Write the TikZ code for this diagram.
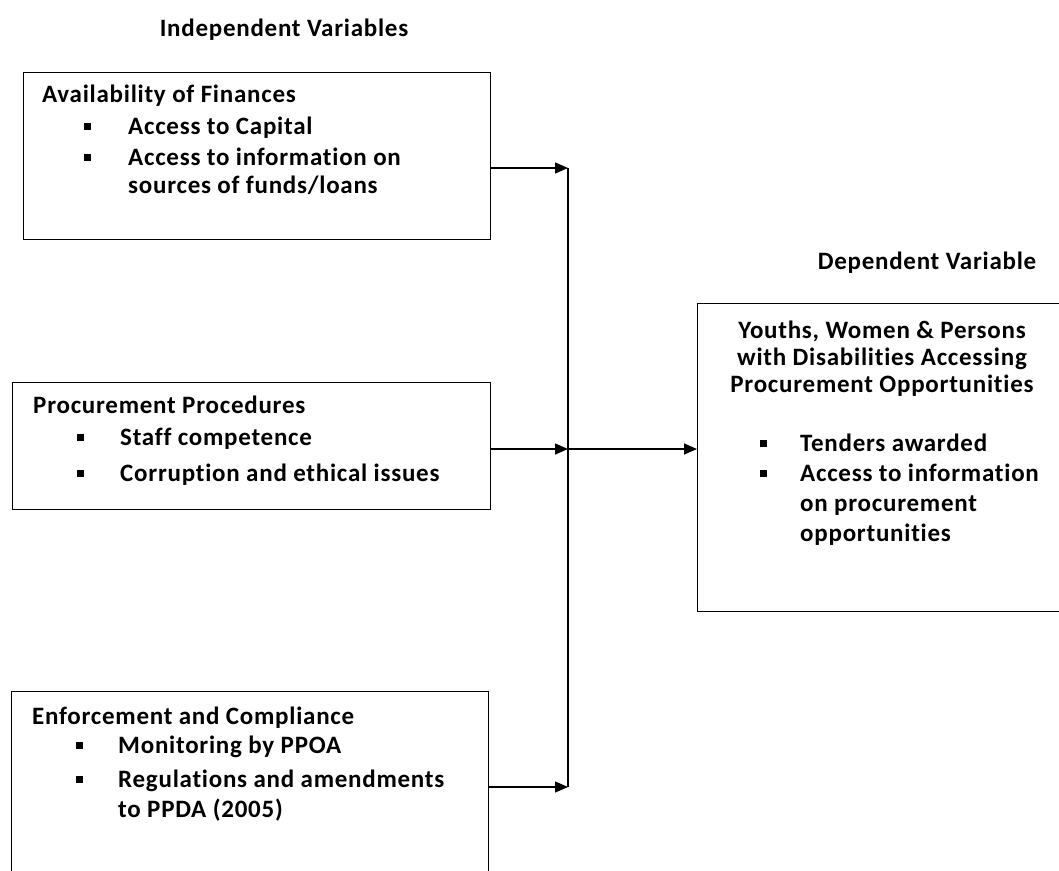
\documentclass[tikz,border=0pt]{standalone}
\usepackage{fontspec}
\setmainfont{Carlito}[LetterSpace=3, Ligatures={NoCommon}]
\usetikzlibrary{arrows.meta}

% Small square bullet used in every list.
\newcommand{\sqbullet}{\rule[4pt]{7pt}{7pt}}

\begin{document}
\begin{tikzpicture}[
        x = 1pt, y = -1pt,
        > = {Triangle[length=13pt, width=11pt]},
        box/.style = {draw, line width=1.3pt, inner sep=0pt, anchor=north west},
        label/.style = {inner sep=0pt, anchor=base west, font=\fontsize{25}{29}\selectfont\bfseries},
        heading/.style = {label, anchor=base},
        link/.style = {line width=1.3pt}
    ]

        % Fix the page to the size of the reference.
        \useasboundingbox (0, 0) rectangle (1059, 870);
        \clip (0, 0) rectangle (1059, 870);

        % Column headings.
        \node[heading] (indep) at (284, 36) {Independent Variables};
        \node[heading] (depend) at (927, 269) {Dependent Variable};

        % The three boxes on the left and the one on the right.
        \node[box, minimum width=467pt, minimum height=167pt] (fin) at (23, 72) {};
        \node[box, minimum width=478pt, minimum height=127pt] (proc) at (12, 382) {};
        \node[box, minimum width=477pt, minimum height=200pt] (enf) at (11, 691) {};
        \node[box, minimum width=380pt, minimum height=308pt] (dep) at (697, 303) {};

        % Text of the finance box.
        \node[label] (fintitle) at (42, 102) {Availability of Finances};
        \node[label] (fina) at (84, 134) {\makebox[44pt][l]{\sqbullet}Access to Capital};
        \node[label] (finb) at (84, 165) {\makebox[44pt][l]{\sqbullet}Access to information on};
        \node[label] (finc) at (128, 193) {sources of funds/loans};

        % Text of the procedures box.
        \node[label] (proctitle) at (33, 413) {Procurement Procedures};
        \node[label] (proca) at (77, 445) {\makebox[43pt][l]{\sqbullet}Staff competence};
        \node[label] (procb) at (77, 481) {\makebox[43pt][l]{\sqbullet}Corruption and ethical issues};

        % Text of the enforcement box.
        \node[label] (enftitle) at (32, 724) {Enforcement and Compliance};
        \node[label] (enfa) at (76, 753) {\makebox[42pt][l]{\sqbullet}Monitoring by PPOA};
        \node[label] (enfb) at (76, 787) {\makebox[42pt][l]{\sqbullet}Regulations and amendments};
        \node[label] (enfc) at (118, 817) {to PPDA (2005)};

        % Text of the dependent variable box.
        \node[heading] (deptitlea) at (882, 338) {Youths, Women \& Persons};
        \node[heading] (deptitleb) at (882, 365) {with Disabilities Accessing};
        \node[heading] (deptitlec) at (882, 392) {Procurement Opportunities};
        \node[label] (depa) at (760, 451) {\makebox[40pt][l]{\sqbullet}Tenders awarded};
        \node[label] (depb) at (760, 481) {\makebox[40pt][l]{\sqbullet}Access to information};
        \node[label] (depc) at (800, 511) {on procurement};
        \node[label] (depd) at (800, 541) {opportunities};

        % Points where the arrows meet the vertical bar.
        \coordinate (bus1) at (568, 168);
        \coordinate (bus2) at (568, 449);
        \coordinate (bus3) at (568, 787);

        % Vertical bar collecting the three arrows.
        \draw[link] (bus1) -- (bus3);

        % Arrows from each box into the bar, and on to the result.
        \draw[link, ->] (fin.east |- bus1) -- (bus1);
        \draw[link, ->] (proc.east |- bus2) -- (bus2);
        \draw[link, ->] (enf.east |- bus3) -- (bus3);
        \draw[link, ->] (bus2) -- (dep.west |- bus2);
    \end{tikzpicture}
\end{document}
